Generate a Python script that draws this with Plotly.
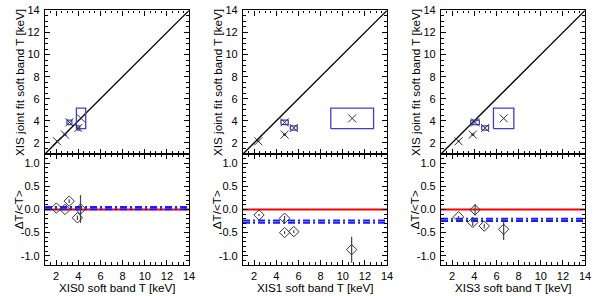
import plotly.graph_objects as go

# ---------------- data ----------------
detectors = ["XIS0", "XIS1", "XIS3"]

# joint-fit soft band temperatures (shared by all panels)
T_joint = [2.15, 2.75, 3.86, 3.35, 4.22]
dT_joint = [0.04, 0.07, 0.20, 0.19, 0.93]

# single-detector soft band temperatures
T_XIS0 = [2.08, 2.80, 3.20, 4.00, 4.25]
dT_XIS0 = [0.04, 0.08, 0.22, 0.13, 0.42]
T_XIS1 = [2.38, 4.75, 4.75, 5.58, 10.85]
dT_XIS1 = [0.04, 0.08, 0.33, 0.31, 1.93]
T_XIS3 = [2.58, 3.86, 4.07, 4.98, 6.65]
dT_XIS3 = [0.04, 0.08, 0.39, 0.31, 0.92]

# relative differences (bottom panels), x = detector T
rel_XIS0 = [0.03, 0.00, 0.18, -0.18, 0.01]
drel_XIS0 = [0.02, 0.02, 0.04, 0.05, 0.30]
x_rel_XIS0 = [2.02, 2.80, 3.18, 3.92, 4.20]

rel_XIS1 = [-0.12, -0.19, -0.50, -0.48, -0.87]
drel_XIS1 = [0.02, 0.05, 0.03, 0.03, 0.28]
x_rel_XIS1 = [2.44, 4.75, 4.75, 5.58, 10.80]

rel_XIS3 = [-0.16, -0.01, -0.28, -0.36, -0.43]
drel_XIS3 = [0.02, 0.12, 0.08, 0.05, 0.23]
x_rel_XIS3 = [2.58, 4.07, 3.86, 4.90, 6.65]

mean_rel = [0.03, -0.265, -0.225]
mean_rel_err = [0.025, 0.025, 0.025]

identity = [1, 14]
x_range = [1, 14]
x_ticks = [2, 4, 6, 8, 10, 12, 14]
y_top_ticks = [2, 4, 6, 8, 10, 12, 14]
y_bot_ticks = [-1.0, -0.5, 0.0, 0.5, 1.0]
y_bot_labels = ["-1.0", "-0.5", "0.0", "0.5", "1.0"]

T_det = [T_XIS0, T_XIS1, T_XIS3]
dT_det = [dT_XIS0, dT_XIS1, dT_XIS3]
rel = [rel_XIS0, rel_XIS1, rel_XIS3]
drel = [drel_XIS0, drel_XIS1, drel_XIS3]
x_rel = [x_rel_XIS0, x_rel_XIS1, x_rel_XIS3]

# ---------------- figure ----------------
W, H = 600, 296
fig = go.Figure()

BLUE_BOX = "#3c3cd2"
BLUE_LINE = "#1a1aff"
MARK = "#333333"
FONT = "Liberation Sans"
TFS = 11.7

x_doms = [(45.5, 191), (245.5, 391), (445.5, 591)]
top_dom = ((296 - 151) / H, (296 - 4.5) / H)
bot_dom = ((296 - 264.3) / H, (296 - 151) / H)

annotations = []
for i, det in enumerate(detectors):
    nt = 2 * i + 1
    nb = 2 * i + 2
    xt, yt = f"x{nt}", f"y{nt}"
    xb, yb = f"x{nb}", f"y{nb}"

    # identity line
    fig.add_trace(go.Scatter(x=identity, y=identity, mode="lines",
                             line=dict(color="black", width=1.3),
                             xaxis=xt, yaxis=yt, showlegend=False, hoverinfo="skip"))
    # error boxes
    bx, by = [], []
    for x, dx, y, dy in zip(T_det[i], dT_det[i], T_joint, dT_joint):
        bx += [x - dx, x + dx, x + dx, x - dx, x - dx, None]
        by += [y - dy, y - dy, y + dy, y + dy, y - dy, None]
    fig.add_trace(go.Scatter(x=bx, y=by, mode="lines",
                             line=dict(color=BLUE_BOX, width=1.3),
                             xaxis=xt, yaxis=yt, showlegend=False, hoverinfo="skip"))
    # crosses
    fig.add_trace(go.Scatter(x=T_det[i], y=T_joint, mode="markers",
                             marker=dict(symbol="x-thin-open", size=8, color=MARK,
                                         line=dict(color=MARK, width=1)),
                             xaxis=xt, yaxis=yt, showlegend=False))

    # bottom: zero line
    fig.add_trace(go.Scatter(x=x_range, y=[0, 0], mode="lines",
                             line=dict(color="#ff0000", width=2),
                             xaxis=xb, yaxis=yb, showlegend=False, hoverinfo="skip"))
    # mean lines (two dash-dot)
    for s in (1, -1):
        m = mean_rel[i] + s * mean_rel_err[i]
        fig.add_trace(go.Scatter(x=x_range, y=[m, m], mode="lines",
                                 line=dict(color=BLUE_LINE, width=2, dash="7px,3px,2px,3px"),
                                 xaxis=xb, yaxis=yb, showlegend=False, hoverinfo="skip"))
    # diamonds
    fig.add_trace(go.Scatter(x=x_rel[i], y=rel[i], mode="markers",
                             marker=dict(symbol="diamond-open", size=8, color=MARK,
                                         line=dict(color=MARK, width=1)),
                             error_y=dict(type="data", array=drel[i], color="#444444",
                                          thickness=1.2, width=0),
                             xaxis=xb, yaxis=yb, showlegend=False))

    xd = (x_doms[i][0] / W, x_doms[i][1] / W)
    common = dict(showline=True, linecolor="black", linewidth=1.3, mirror="allticks",
                  ticks="inside", ticklen=5, tickcolor="black", tickwidth=1,
                  showgrid=False, zeroline=False, ticklabeloverflow="allow",
                  tickfont=dict(family=FONT, size=11, color="black"))
    fig.layout[f"xaxis{nt}"] = dict(domain=xd, range=x_range, anchor=yt,
                                    tickvals=x_ticks, showticklabels=False,
                                    minor=dict(ticks="inside", ticklen=2.5, dtick=0.5, tick0=0,
                                               tickcolor="black"),
                                    **common)
    fig.layout[f"yaxis{nt}"] = dict(domain=top_dom, range=x_range, anchor=xt,
                                    tickvals=y_top_ticks, ticklabelstandoff=2,
                                    minor=dict(ticks="inside", ticklen=2.5, dtick=0.5, tick0=0,
                                               tickcolor="black"),
                                    **common)
    fig.layout[f"xaxis{nb}"] = dict(domain=xd, range=x_range, anchor=yb,
                                    tickvals=x_ticks, ticklabelstandoff=1,
                                    minor=dict(ticks="inside", ticklen=2.5, dtick=0.5, tick0=0,
                                               tickcolor="black"),
                                    **common)
    fig.layout[f"yaxis{nb}"] = dict(domain=bot_dom, range=[-1.2, 1.2], anchor=xb,
                                    tickvals=y_bot_ticks, ticktext=y_bot_labels,
                                    ticklabelstandoff=2,
                                    minor=dict(ticks="inside", ticklen=2.5, dtick=0.1, tick0=0,
                                               tickcolor="black"),
                                    **common)

    # axis titles
    xc = (x_doms[i][0] + x_doms[i][1]) / 2 / W
    annotations.append(dict(text=f"{det} soft band T [keV]", x=xc, y=(296 - 287) / H,
                            xref="paper", yref="paper", showarrow=False,
                            font=dict(family=FONT, size=TFS, color="black"),
                            xanchor="center", yanchor="middle"))
    ytx = (x_doms[i][0] - 26.5) / W
    annotations.append(dict(text="XIS joint fit soft band T [keV]", x=ytx,
                            y=(top_dom[0] + top_dom[1]) / 2,
                            xref="paper", yref="paper", showarrow=False, textangle=-90,
                            font=dict(family=FONT, size=TFS, color="black"),
                            xanchor="center", yanchor="middle"))
    annotations.append(dict(text="ΔT/&lt;T&gt;", x=ytx,
                            y=(bot_dom[0] + bot_dom[1]) / 2,
                            xref="paper", yref="paper", showarrow=False, textangle=-90,
                            font=dict(family=FONT, size=TFS, color="black"),
                            xanchor="center", yanchor="middle"))

fig.update_layout(width=W, height=H, margin=dict(l=0, r=0, t=0, b=0),
                  plot_bgcolor="white", paper_bgcolor="white",
                  annotations=annotations, showlegend=False)

fig.write_html("out.html", config={"displayModeBar": False},
               post_script="document.body.style.margin='0';document.body.style.overflow='hidden';")
